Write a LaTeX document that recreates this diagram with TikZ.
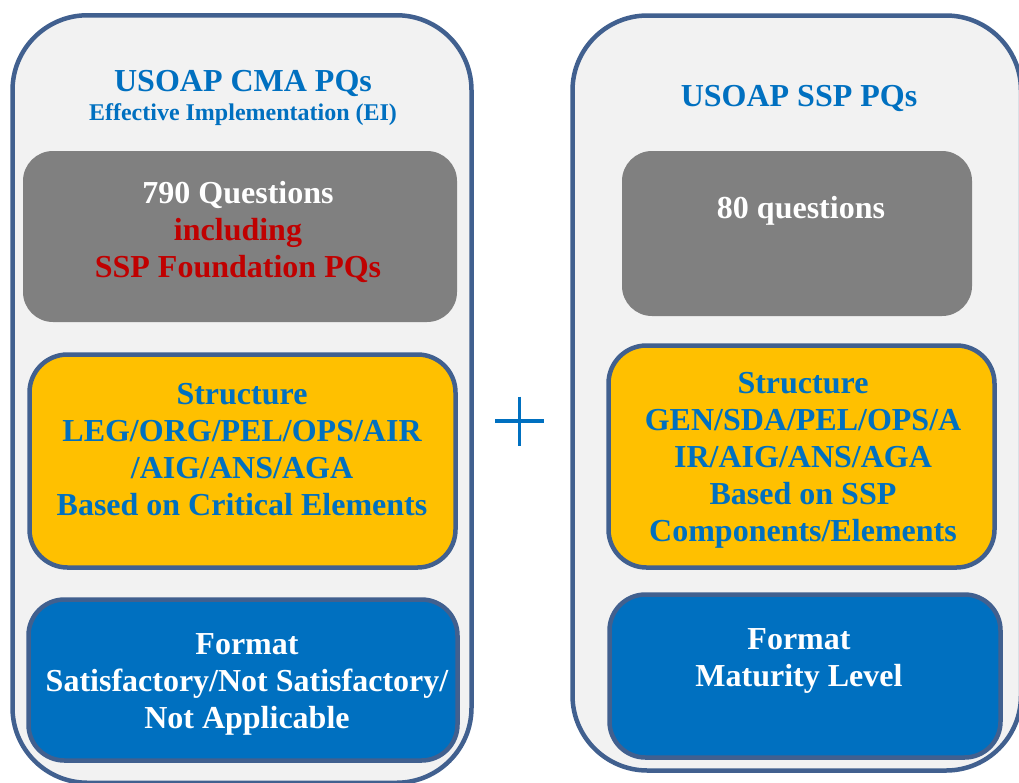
\documentclass[tikz,border=0pt]{standalone}
\usepackage{fontspec}
\setmainfont{Liberation Serif}
\definecolor{panelfill}{HTML}{F2F2F2}
\definecolor{panelline}{HTML}{41608F}
\definecolor{boxgray}{HTML}{808080}
\definecolor{boxyellow}{HTML}{FFC000}
\definecolor{boxblue}{HTML}{0070C0}
\definecolor{txtblue}{HTML}{0070C0}
\definecolor{txtred}{HTML}{C00000}
\begin{document}
\begin{tikzpicture}[x=1pt,y=-1pt,
    panel/.style={draw=panelline,fill=panelfill,line width=4.5pt,rounded corners=75pt,inner sep=0pt},
    graybox/.style={fill=boxgray,rounded corners=30pt,inner sep=0pt},
    yellowbox/.style={draw=panelline,fill=boxyellow,line width=4.5pt,rounded corners=38pt,inner sep=0pt},
    bluebox/.style={draw=panelline,fill=boxblue,line width=4.5pt,rounded corners=36pt,inner sep=0pt},
    txt/.style={align=center,anchor=base,inner sep=0pt,font=\fontsize{32}{37}\selectfont\bfseries}]
                \useasboundingbox (0,0) rectangle (1019,782);
                % left panel
                \node[panel,minimum width=459pt,minimum height=767.5pt] (cma) at (242,399) {};
                \node[graybox,minimum width=434pt,minimum height=171pt] (cmaq) at (240,236.5) {};
                \node[yellowbox,minimum width=426pt,minimum height=213pt] (cmas) at (242.5,461) {};
                \node[bluebox,minimum width=429pt,minimum height=161pt] (cmaf) at (243,680) {};
                \node[txt,text=txtblue] (cmat) at (243,120) {USOAP CMA PQs\\[-8pt]{\fontsize{24}{29}\selectfont Effective Implementation (EI)}};
                \node[txt,text=white] (cmaqt) at (238,277) {790 Questions\\\textcolor{txtred}{including}\\\textcolor{txtred}{SSP Foundation PQs}};
                \node[txt,text=txtblue] (cmast) at (242,515) {Structure\\LEG/ORG/PEL/OPS/AIR\\/AIG/ANS/AGA\\Based on Critical Elements};
                \node[txt,text=white] (cmaft) at (247,728) {Format\\Satisfactory/Not Satisfactory/\\Not Applicable};
                % plus
                \coordinate (pl) at (519.5,421);
                \draw[txtblue,line width=3.5pt] ([xshift=-24.5pt]pl) -- ([xshift=24.5pt]pl);
                \draw[txtblue,line width=3.5pt] ([yshift=24.5pt]pl) -- ([yshift=-24.5pt]pl);
                % right panel
                \node[panel,minimum width=448.5pt,minimum height=755pt] (ssp) at (796.75,393) {};
                \node[graybox,minimum width=350pt,minimum height=165pt] (sspq) at (797,233.5) {};
                \node[yellowbox,minimum width=386pt,minimum height=222pt] (ssps) at (801.5,456.5) {};
                \node[bluebox,minimum width=391pt,minimum height=163pt] (sspf) at (805,676) {};
                \node[txt,text=txtblue] (sspt) at (799,106) {USOAP SSP PQs};
                \node[txt,text=white] (sspqt) at (801,218) {80 questions};
                \node[txt,text=txtblue] (sspst) at (803,541) {Structure\\GEN/SDA/PEL/OPS/A\\IR/AIG/ANS/AGA\\Based on SSP\\Components/Elements};
                \node[txt,text=white] (sspft) at (799,686) {Format\\Maturity Level};
\end{tikzpicture}
\end{document}
